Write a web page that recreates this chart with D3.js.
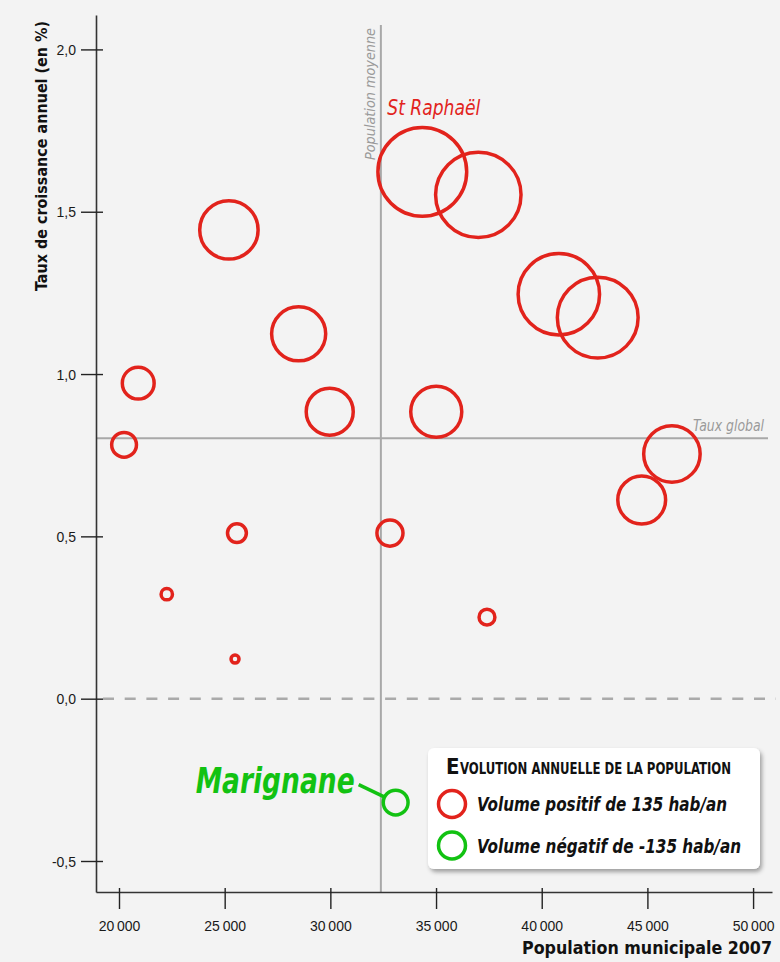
<!DOCTYPE html>
<html>
<head>
<meta charset="utf-8">
<script src="https://cdn.jsdelivr.net/npm/d3@7"></script>
<style>
  body { margin: 0; background: #f3f3f3; }
  svg { display: block; font-family: "DejaVu Sans Condensed", "DejaVu Sans", sans-serif; font-stretch: condensed; }
</style>
</head>
<body>
<script>
// communes : population 2007, taux de croissance annuel (%), volume annuel (hab/an)
const names      = ["", "", "", "", "", "", "St Raphaël", "", "", "", "", "", "", "", "", "", "", "Marignane"];
const population = [25200, 20910, 20240, 25580, 22260, 25490, 34350, 37000, 40810, 42650, 28500, 29970, 35010, 32820, 37410, 46160, 44730, 33090];
const taux       = [1.444, 0.972, 0.782, 0.510, 0.322, 0.122, 1.623, 1.552, 1.246, 1.174, 1.124, 0.884, 0.884, 0.510, 0.251, 0.754, 0.612, -0.320];
const volume     = [365, 199, 155, 118, 71, 50, 555, 534, 509, 505, 338, 294, 319, 163, 99, 353, 299, -155];

const xTicks = [20000, 25000, 30000, 35000, 40000, 45000, 50000];
const yTicks = [-0.5, 0, 0.5, 1, 1.5, 2];
const populationMoyenne = 32390;
const tauxGlobal = 0.802;
const legendLabels = ["Volume positif de 135 hab/an", "Volume négatif de -135 hab/an"];

const red = "#e2231c", green = "#12c212";
const width = 780, height = 962;

const fr = d3.formatLocale({ decimal: ",", thousands: "\u2009", grouping: [3], currency: ["", " €"], minus: "-" });

const svg = d3.select("body").append("svg")
  .attr("width", width)
  .attr("height", height);

const defs = svg.append("defs");
const shadow = defs.append("filter").attr("id", "shadow")
  .attr("x", "-10%").attr("y", "-10%").attr("width", "120%").attr("height", "130%");
shadow.append("feDropShadow")
  .attr("dx", 2).attr("dy", 3).attr("stdDeviation", 2)
  .attr("flood-color", "#000").attr("flood-opacity", 0.35);

// scales
const x = d3.scaleLinear().domain([18912, 50895]).range([96, 772]);
const y = d3.scaleLinear().domain([-0.5955, 2.106]).range([892, 15]);
const r = d3.scaleLinear().domain([0, 555]).range([0, 44.4]);

// reference lines
svg.append("line")
  .attr("x1", x(populationMoyenne)).attr("x2", x(populationMoyenne))
  .attr("y1", 25).attr("y2", y.range()[0])
  .attr("stroke", "#a8a8a8").attr("stroke-width", 2);

svg.append("line")
  .attr("x1", x.range()[0]).attr("x2", 768)
  .attr("y1", y(tauxGlobal)).attr("y2", y(tauxGlobal))
  .attr("stroke", "#a8a8a8").attr("stroke-width", 2);

svg.append("line")
  .attr("x1", 103).attr("x2", 776)
  .attr("y1", y(0)).attr("y2", y(0))
  .attr("stroke", "#aaa").attr("stroke-width", 2.5)
  .attr("stroke-dasharray", "11,10.7");

svg.append("text")
  .attr("transform", "translate(375,160) rotate(-90)")
  .attr("textLength", 132).attr("lengthAdjust", "spacingAndGlyphs")
  .attr("font-size", 14).attr("font-style", "italic")
  .attr("fill", "#9a9a9a")
  .text("Population moyenne");

svg.append("text")
  .attr("x", 764).attr("y", 431)
  .attr("text-anchor", "end")
  .attr("textLength", 71).attr("lengthAdjust", "spacingAndGlyphs")
  .attr("font-size", 15).attr("font-style", "italic")
  .attr("fill", "#9a9a9a")
  .text("Taux global");

// Y axis
const yAxis = svg.append("g")
  .attr("transform", "translate(96,0)")
  .call(d3.axisLeft(y).tickValues(yTicks).tickFormat(fr.format(".1f")).tickSizeOuter(0));
yAxis.select(".domain").attr("stroke", "#333").attr("stroke-width", 1.6);
yAxis.selectAll(".tick line").attr("x1", 7).attr("x2", -15).attr("stroke", "#222").attr("stroke-width", 1.4);
yAxis.selectAll(".tick text")
  .attr("x", -20).attr("dy", "0.36em")
  .attr("font-family", null).attr("font-size", 14).attr("fill", "#1a1a1a");

// X axis
const xAxis = svg.append("g")
  .attr("transform", "translate(0,892)")
  .call(d3.axisBottom(x).tickValues(xTicks).tickFormat(fr.format(",d")).tickSizeOuter(0));
xAxis.select(".domain").attr("stroke", "#333").attr("stroke-width", 1.6);
xAxis.selectAll(".tick line").attr("y1", -4).attr("y2", 17).attr("stroke", "#222").attr("stroke-width", 1.4);
xAxis.selectAll(".tick text")
  .attr("y", 39).attr("dy", 0)
  .attr("font-family", null).attr("font-size", 14).attr("fill", "#1a1a1a");

// axis titles
svg.append("text")
  .attr("transform", "translate(47,156) rotate(-90)")
  .attr("text-anchor", "middle")
  .attr("textLength", 270).attr("lengthAdjust", "spacingAndGlyphs")
  .attr("font-size", 16).attr("font-weight", "bold").attr("fill", "#111")
  .text("Taux de croissance annuel (en %)");

svg.append("text")
  .attr("x", 772).attr("y", 954)
  .attr("text-anchor", "end")
  .attr("textLength", 250).attr("lengthAdjust", "spacingAndGlyphs")
  .attr("font-size", 18).attr("font-weight", "bold").attr("fill", "#111")
  .text("Population municipale 2007");

// bubbles
const data = population.map((p, i) => ({ name: names[i], pop: p, taux: taux[i], vol: volume[i] }));

svg.append("g")
  .selectAll("circle")
  .data(data)
  .join("circle")
  .attr("cx", d => x(d.pop))
  .attr("cy", d => y(d.taux))
  .attr("r", d => r(Math.abs(d.vol)))
  .attr("fill", "none")
  .attr("stroke", d => d.vol < 0 ? green : red)
  .attr("stroke-width", 3.5);

// labels
const stRaph = data.find(d => d.name === "St Raphaël");
svg.append("text")
  .attr("x", x(stRaph.pop) - 35).attr("y", y(stRaph.taux) - 57)
  .attr("textLength", 93).attr("lengthAdjust", "spacingAndGlyphs")
  .attr("font-size", 22).attr("font-style", "italic").attr("fill", red)
  .text(stRaph.name);

const mari = data.find(d => d.name === "Marignane");
const mx = x(mari.pop), my = y(mari.taux);
svg.append("line")
  .attr("x1", mx - 37).attr("y1", my - 18)
  .attr("x2", mx - 12).attr("y2", my - 6)
  .attr("stroke", green).attr("stroke-width", 3.5);
svg.append("text")
  .attr("x", mx - 41).attr("y", my - 10)
  .attr("text-anchor", "end")
  .attr("textLength", 159).attr("lengthAdjust", "spacingAndGlyphs")
  .attr("font-size", 36).attr("font-style", "italic").attr("font-weight", "bold")
  .attr("fill", green)
  .text(mari.name);

// legend
const lg = svg.append("g").attr("transform", "translate(428,748)");
lg.append("rect")
  .attr("width", 332).attr("height", 121).attr("rx", 6)
  .attr("fill", "#fff").attr("filter", "url(#shadow)");
lg.append("text")
  .attr("x", 18).attr("y", 26)
  .attr("font-size", 22).attr("font-weight", "bold").attr("fill", "#111")
  .text("E");
lg.append("text")
  .attr("x", 32).attr("y", 26)
  .attr("textLength", 271).attr("lengthAdjust", "spacingAndGlyphs")
  .attr("font-size", 15).attr("font-weight", "bold").attr("fill", "#111")
  .text("VOLUTION ANNUELLE DE LA POPULATION");

const items = lg.selectAll("g.item")
  .data(legendLabels)
  .join("g")
  .attr("class", "item")
  .attr("transform", (d, i) => `translate(0,${56 + i * 41.5})`);
items.append("circle")
  .attr("cx", 24).attr("cy", 0).attr("r", 13.5)
  .attr("fill", "none")
  .attr("stroke", (d, i) => i === 0 ? red : green)
  .attr("stroke-width", 3.5);
items.append("text")
  .attr("x", 49).attr("y", 7)
  .attr("textLength", (d, i) => i === 0 ? 250 : 264).attr("lengthAdjust", "spacingAndGlyphs")
  .attr("font-size", 19).attr("font-style", "italic").attr("font-weight", "bold").attr("fill", "#111")
  .text(d => d);
</script>
</body>
</html>
